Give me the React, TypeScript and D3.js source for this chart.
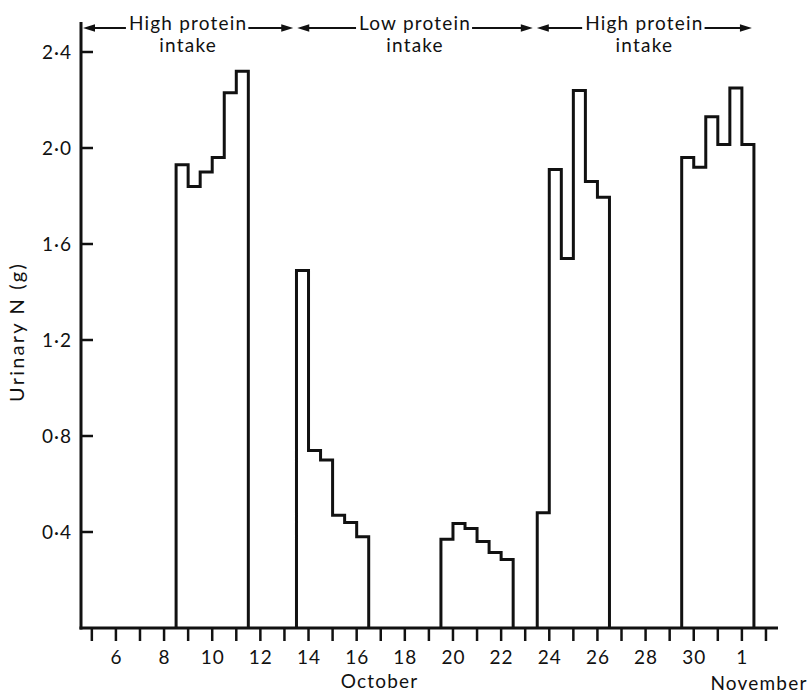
import React, { useRef, useEffect } from 'react';
import * as d3 from 'd3';

// urinary N per 12-hour period (g), each block of six starts at the given day
const blockStarts = [8.5, 13.5, 19.5, 23.5, 29.5];
const highProteinA = [1.93, 1.84, 1.9, 1.96, 2.23, 2.32];
const lowProteinA = [1.49, 0.74, 0.7, 0.47, 0.44, 0.38];
const lowProteinB = [0.37, 0.435, 0.415, 0.36, 0.315, 0.285];
const highProteinB = [0.48, 1.91, 1.54, 2.24, 1.86, 1.795];
const highProteinC = [1.96, 1.92, 2.13, 2.015, 2.25, 2.015];
const blocks = [highProteinA, lowProteinA, lowProteinB, highProteinB, highProteinC];

// days counted on from 1 October (32 = 1 November)
const dayTicks = d3.range(5, 34);
const dayLabels: Record<number, string> = {
  6: '6', 8: '8', 10: '10', 12: '12', 14: '14', 16: '16', 18: '18', 20: '20',
  22: '22', 24: '24', 26: '26', 28: '28', 30: '30', 32: '1',
};
const yTicks = [0.4, 0.8, 1.2, 1.6, 2.0, 2.4];

const intakeLabels = ['High protein', 'Low protein', 'High protein'];
const intakeBounds = [4.55, 13.45, 23.4, 32.5];

function App() {
  const ref = useRef<SVGSVGElement>(null);

  useEffect(() => {
    const width = 809;
    const height = 693;
    const font = 'Lato, "Open Sans", sans-serif';

    const svg = d3.select(ref.current);
    svg.selectAll('*').remove();

    const x = d3.scaleLinear().domain([4.55, 33.5]).range([81, 778]);
    const y = d3.scaleLinear().domain([0, 2.4]).range([628, 52]);

    // axes
    svg.append('line')
      .attr('x1', x(4.55)).attr('x2', x(4.55))
      .attr('y1', 22).attr('y2', y(0) + 1.5)
      .attr('stroke', '#111').attr('stroke-width', 3);
    svg.append('line')
      .attr('x1', x(4.55) - 1.5).attr('x2', x(33.5))
      .attr('y1', y(0)).attr('y2', y(0))
      .attr('stroke', '#111').attr('stroke-width', 3);

    svg.append('g').selectAll('line')
      .data(dayTicks)
      .join('line')
      .attr('x1', d => x(d)).attr('x2', d => x(d))
      .attr('y1', y(0)).attr('y2', y(0) + 13)
      .attr('stroke', '#111').attr('stroke-width', 2.5);

    svg.append('g').selectAll('text')
      .data(dayTicks.filter(d => dayLabels[d]))
      .join('text')
      .attr('x', d => x(d) + 0.5).attr('y', 664)
      .attr('text-anchor', 'middle')
      .attr('font-family', font).attr('font-size', 19)
      .attr('letter-spacing', 1)
      .attr('fill', '#111')
      .text(d => dayLabels[d]);

    svg.append('text')
      .attr('x', x(16.95)).attr('y', 688)
      .attr('text-anchor', 'middle')
      .attr('font-family', font).attr('font-size', 19).attr('letter-spacing', 1.2)
      .attr('fill', '#111')
      .text('October');
    svg.append('text')
      .attr('x', 759).attr('y', 690)
      .attr('text-anchor', 'middle')
      .attr('font-family', font).attr('font-size', 19).attr('letter-spacing', 1.2)
      .attr('fill', '#111')
      .text('November');

    svg.append('g').selectAll('line')
      .data(yTicks)
      .join('line')
      .attr('x1', x(4.55)).attr('x2', x(4.55) + 12)
      .attr('y1', d => y(d)).attr('y2', d => y(d))
      .attr('stroke', '#111').attr('stroke-width', 2.5);

    svg.append('g').selectAll('text')
      .data(yTicks)
      .join('text')
      .attr('x', 72).attr('y', d => y(d))
      .attr('dy', '0.36em')
      .attr('text-anchor', 'end')
      .attr('font-family', font).attr('font-size', 19).attr('letter-spacing', 1)
      .attr('fill', '#111')
      .text(d => d.toFixed(1).replace('.', '·'));

    svg.append('text')
      .attr('transform', `translate(24,${332}) rotate(-90)`)
      .attr('text-anchor', 'middle')
      .attr('font-family', font).attr('font-size', 20).attr('letter-spacing', 2.2)
      .attr('fill', '#111')
      .text('Urinary N (g)');

    // step outlines
    const line = d3.line<[number, number]>()
      .x(d => x(d[0]))
      .y(d => y(d[1]))
      .curve(d3.curveStepAfter);

    blocks.forEach((vals, i) => {
      const s = blockStarts[i];
      const pts: [number, number][] = [[s, 0]];
      vals.forEach((v, j) => pts.push([s + j * 0.5, v]));
      pts.push([s + vals.length * 0.5, 0]);
      svg.append('path')
        .attr('d', line(pts))
        .attr('fill', 'none')
        .attr('stroke', '#111')
        .attr('stroke-width', 3)
        .attr('stroke-linejoin', 'miter');
    });

    // intake annotations with double arrows
    const arrowY = 28;
    const head = (tip: number, dir: number) =>
      `M${tip},${arrowY} L${tip + dir * 12},${arrowY - 3.8} L${tip + dir * 12},${arrowY + 3.8} Z`;

    intakeLabels.forEach((label, i) => {
      const left = x(intakeBounds[i]) + 2;
      const right = x(intakeBounds[i + 1]) - 2;
      const mid = (left + right) / 2;
      const g = svg.append('g');
      const t = g.append('text')
        .attr('x', mid).attr('y', 30)
        .attr('text-anchor', 'middle')
        .attr('font-family', font).attr('font-size', 19).attr('letter-spacing', 1.2)
        .attr('fill', '#111')
        .text(label);
      g.append('text')
        .attr('x', mid).attr('y', 52)
        .attr('text-anchor', 'middle')
        .attr('font-family', font).attr('font-size', 19).attr('letter-spacing', 1.2)
        .attr('fill', '#111')
        .text('intake');
      const w = (t.node() as SVGTextElement).getComputedTextLength();
      g.append('line')
        .attr('x1', left + 4).attr('x2', mid - w / 2 - 3)
        .attr('y1', arrowY).attr('y2', arrowY)
        .attr('stroke', '#111').attr('stroke-width', 2);
      g.append('line')
        .attr('x1', mid + w / 2 + 1).attr('x2', right - 4)
        .attr('y1', arrowY).attr('y2', arrowY)
        .attr('stroke', '#111').attr('stroke-width', 2);
      g.append('path').attr('d', head(left, 1)).attr('fill', '#111');
      g.append('path').attr('d', head(right, -1)).attr('fill', '#111');
    });

    svg.attr('viewBox', [0, 0, width, height]);
  }, []);

  return (
    <svg
      ref={ref}
      width={809}
      height={693}
      style={{ position: 'absolute', left: 0, top: 0, background: '#fff' }}
    />
  );
}

export default App;
